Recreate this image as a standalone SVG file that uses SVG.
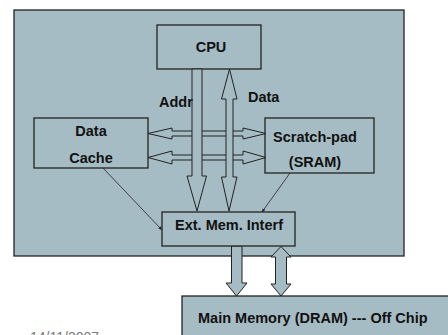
<svg xmlns="http://www.w3.org/2000/svg" width="448" height="335" viewBox="0 0 448 335">
  <style>
    .box { fill: #a6bcc4; stroke: #222; stroke-width: 1.3; }
    .lbl { font-family: "Liberation Sans", Arial, sans-serif; font-weight: bold; font-size: 14.5px; fill: #111; }
    .bus { fill: #a6bcc4; stroke: #222; stroke-width: 1; stroke-linejoin: miter; }
    .thin { fill: none; stroke: #222; stroke-width: 0.8; }
    .date { font-family: "Liberation Sans", Arial, sans-serif; font-size: 14px; fill: #777; }
  </style>
  <defs>
    <marker id="tip" viewBox="0 0 10 10" refX="9" refY="5" markerWidth="5" markerHeight="5" orient="auto">
      <path d="M0,1 L10,5 L0,9 Z" fill="#222"/>
    </marker>
  </defs>

  <rect width="448" height="335" fill="#fff"/>

  <!-- chip boundary -->
  <g id="chip">
    <rect class="box" x="14" y="10" width="390" height="246"/>
  </g>

  <g id="cpu">
    <rect class="box" x="157" y="25" width="104" height="44"/>
    <text class="lbl" x="211" y="52" text-anchor="middle">CPU</text>
  </g>

  <g id="data-cache">
    <rect class="box" x="34" y="118" width="114" height="50"/>
    <text class="lbl" x="91" y="136" text-anchor="middle">Data</text>
    <text class="lbl" x="91" y="163" text-anchor="middle">Cache</text>
  </g>

  <g id="scratch-pad">
    <rect class="box" x="265" y="118" width="109" height="55"/>
    <text class="lbl" x="315" y="142" text-anchor="middle">Scratch-pad</text>
    <text class="lbl" x="315" y="167" text-anchor="middle">(SRAM)</text>
  </g>

  <!-- buses and links -->
  <g id="connectors">
    <!-- cache <-> scratch-pad -->
    <polygon class="bus" points="148,133.5 172,128 172,131 243,131 243,128 266,133.5 243,139 243,136 172,136 172,139"/>
    <polygon class="bus" points="148,157.5 172,151 172,155 243,155 243,151 266,157.5 243,164 243,160 172,160 172,164"/>
    <!-- address bus -->
    <polygon class="bus" points="192,69 202,69 202,176 206.5,176 197,211 187,176 192,176"/>
    <!-- data bus -->
    <polygon class="bus" points="229.5,69 237,99 233,99 233,177 237,177 229,211 221.5,177 226,177 226,99 221.5,99"/>
    <!-- off-chip address -->
    <polygon class="bus" points="231.5,246 242,246 242,283 247,283 236.5,296 226,283 231.5,283"/>
    <!-- off-chip data -->
    <polygon class="bus" points="281,246.5 291,257 286.5,257 286.5,284 291,284 281,296 271,284 275.5,284 275.5,257 271,257"/>
    <!-- refill paths -->
    <line class="thin" x1="103" y1="168" x2="162" y2="230" marker-end="url(#tip)"/>
    <line class="thin" x1="290" y1="173" x2="262" y2="212" marker-end="url(#tip)"/>
    <text class="lbl" x="159" y="107">Addr</text>
    <text class="lbl" x="248" y="102">Data</text>
  </g>

  <g id="ext-mem-interf">
    <rect class="box" x="162" y="212" width="133" height="34"/>
    <text class="lbl" x="229" y="230" text-anchor="middle">Ext. Mem. Interf</text>
  </g>

  <g id="main-memory">
    <rect class="box" x="182" y="296" width="280" height="50"/>
    <text class="lbl" x="198" y="323">Main Memory (DRAM) --- Off Chip</text>
  </g>

  <text class="date" x="30" y="342">14/11/2007</text>
</svg>
